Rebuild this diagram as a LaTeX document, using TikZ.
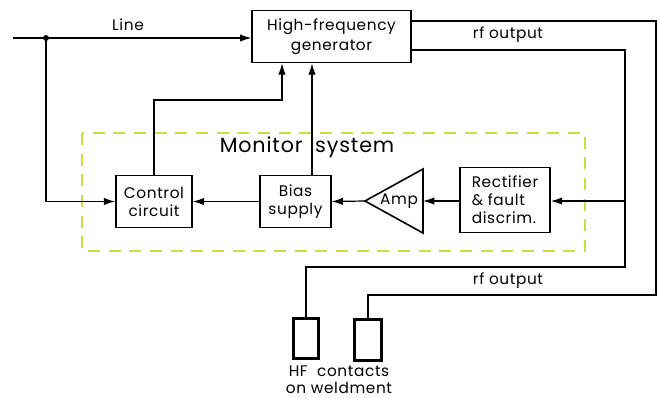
\documentclass[tikz,border=0pt]{standalone}
\usepackage{fontspec}
\setmainfont{Poppins}[LetterSpace=4]
\usetikzlibrary{arrows.meta}
\definecolor{monitorgreen}{RGB}{200,222,70}

\begin{document}
\begin{tikzpicture}[x=0.75pt,y=-0.75pt,
    blk/.style={draw,line width=1.2pt,align=center,inner sep=1pt,font=\fontsize{11.5}{13.5}\selectfont},
    wire/.style={line width=0.9pt},
    arr/.style={wire,-{Latex[length=8.5pt,width=5.5pt]}},
    lbl/.style={font=\fontsize{11.5}{12.5}\selectfont}]
  \useasboundingbox (0,0) rectangle (660,397);
  % monitor frame
  \draw[monitorgreen,line width=1pt,dash pattern=on 9pt off 6.5pt] (82,133) rectangle (585,251);
  \node[lbl,font=\fontsize{15.5}{17}\selectfont] (mon) at (307,147) {Monitor\ \ system};
  % blocks
  \node[blk,minimum width=119pt,minimum height=39pt,font=\fontsize{11.5}{15}\selectfont] (gen) at (331.5,36.5) {High-frequency\\generator};
  \node[blk,minimum width=57pt,minimum height=39pt] (ctrl) at (154,201.5) {Control\\circuit};
  \node[blk,minimum width=53pt,minimum height=39pt] (bias) at (295.5,201.5) {Bias\\supply};
  \node[blk,minimum width=67.5pt,minimum height=48.5pt,align=left] (rect) at (505,200) {Rectifier\\\& fault\\discrim.};
  \draw[line width=1.2pt] (365,201) coordinate (amptip) -- (423,169) -- (423,233) -- cycle;
  \coordinate (ampback) at (423,201);
  \node[lbl,inner sep=0pt] (amp) at (399,201) {Amp};
  \node[draw,line width=1.8pt,minimum width=19pt,minimum height=30pt,inner sep=0pt] (hf1) at (306,338.5) {};
  \node[draw,line width=1.8pt,minimum width=20pt,minimum height=31pt,inner sep=0pt] (hf2) at (368,340) {};
  % line input
  \coordinate (linein) at (13,38);
  \coordinate (tap) at (46,38);
  \node[lbl] (linelbl) at (128,25) {Line};
  \draw[arr] (linein) -- (linein -| gen.west);
  \fill (tap) circle (2.2pt);
  \draw[arr] (tap) |- (ctrl.west);
  % control paths
  \coordinate (ctrlknee) at (282,100);
  \draw[arr] (ctrl.north) |- (ctrlknee) -- (ctrlknee |- gen.south);
  \coordinate (biasup) at (312,0);
  \draw[arr] (biasup |- bias.north) -- (biasup |- gen.south);
  \draw[arr] (bias.west) -- (ctrl.east);
  \draw[arr] (amptip) -- (bias.east);
  \draw[arr] (rect.west |- ampback) -- (ampback);
  % rf output
  \coordinate (rfouter) at (656,21);
  \coordinate (rfouterlow) at (656,295);
  \coordinate (rfinner) at (625,50);
  \coordinate (rfinnerlow) at (625,267);
  \draw[wire] (gen.east |- rfouter) -| (rfouterlow) -| (hf2.north);
  \draw[wire] (gen.east |- rfinner) -| (rfinnerlow) -| (hf1.north);
  \draw[arr] (rfinner |- ampback) -- (rect.east |- ampback);
  \node[lbl] (rf1) at (508,35) {rf output};
  \node[lbl] (rf2) at (508,281) {rf output};
  \node[lbl,align=center,inner sep=0pt] (hflbl) at (339,379.5) {HF\ \ contacts\\on weldment};
\end{tikzpicture}
\end{document}
